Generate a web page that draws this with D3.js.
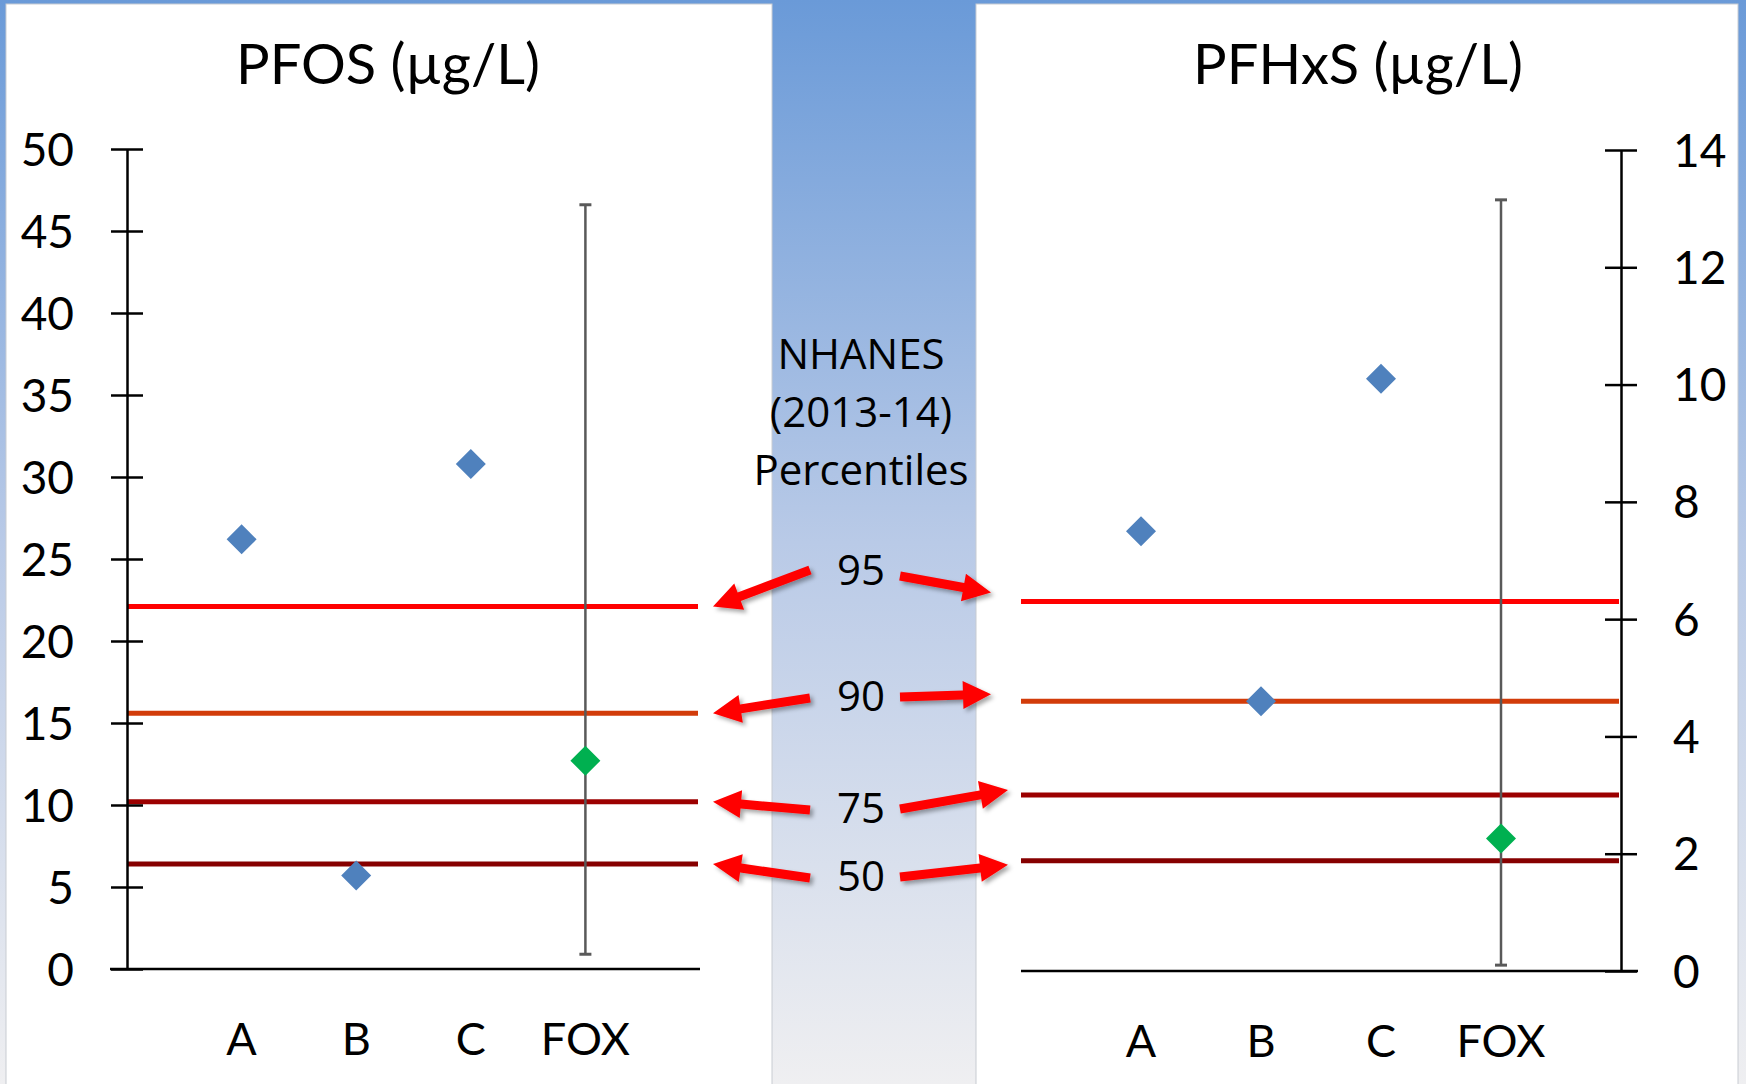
<!DOCTYPE html>
<html>
<head>
<meta charset="utf-8">
<script src="https://cdn.jsdelivr.net/npm/d3@7"></script>
<style>
  html, body { margin: 0; padding: 0; background: #fff; }
  svg { display: block; }
</style>
</head>
<body>
<div id="vis"></div>
<script>
// ── Data ───────────────────────────────────────────────────────────────

const categories = ["A", "B", "C", "FOX"];

// PFOS (µg/L)
const pfosValues = [26.2, 5.7, 30.8, 12.7];
const pfosFoxRange = [0.9, 46.6];
const pfosTicks = [0, 5, 10, 15, 20, 25, 30, 35, 40, 45, 50];

// PFHxS (µg/L)
const pfhxsValues = [7.5, 4.6, 10.1, 2.26];
const pfhxsFoxRange = [0.1, 13.15];
const pfhxsTicks = [0, 2, 4, 6, 8, 10, 12, 14];

// NHANES (2013-14) percentiles
const percentiles = ["95", "90", "75", "50"];
const pfosPercentiles = [22.1, 15.6, 10.2, 6.4];
const pfhxsPercentiles = [6.3, 4.6, 3.0, 1.88];

// ── Setup ──────────────────────────────────────────────────────────────

const W = 1746, H = 1084;
const FONT = "Lato, 'Open Sans', sans-serif";
const LINE_COLORS = { "95": "#ff0000", "90": "#d23c0a", "75": "#9c0000", "50": "#860000" };

const svg = d3.select("#vis").append("svg").attr("width", W).attr("height", H);
const defs = svg.append("defs");

const grad = defs.append("linearGradient").attr("id", "bg").attr("x1", 0).attr("y1", 0).attr("x2", 0).attr("y2", 1);
grad.append("stop").attr("offset", "0%").attr("stop-color", "#6a9ad8");
grad.append("stop").attr("offset", "50%").attr("stop-color", "#b9cae7");
grad.append("stop").attr("offset", "100%").attr("stop-color", "#efeff1");

const shadow = defs.append("filter").attr("id", "shadow").attr("x", "-20%").attr("y", "-50%").attr("width", "140%").attr("height", "200%");
shadow.append("feDropShadow").attr("dx", 3).attr("dy", 3).attr("stdDeviation", 2)
  .attr("flood-color", "#000").attr("flood-opacity", 0.35);

svg.append("rect").attr("width", W).attr("height", H).attr("fill", "url(#bg)");

// white panels
svg.append("rect").attr("x", 6).attr("y", 4).attr("width", 766).attr("height", H).attr("fill", "#fff")
  .attr("stroke", "#c8ccd2").attr("stroke-width", 1);
svg.append("rect").attr("x", 976).attr("y", 4).attr("width", 762).attr("height", H).attr("fill", "#fff")
  .attr("stroke", "#c8ccd2").attr("stroke-width", 1);

// ── Panels ─────────────────────────────────────────────────────────────

function panel(opt) {
  const g = svg.append("g");
  const x = d3.scalePoint().domain(categories).range(opt.xRange).padding(1);
  const y = d3.scaleLinear().domain(opt.yDomain).range(opt.yRange);

  // title
  g.append("text").attr("x", opt.titleX).attr("y", 84)
    .attr("text-anchor", "middle").attr("font-family", FONT).attr("font-size", 56)
    .attr("fill", "#000").text(opt.title);

  // percentile lines
  g.selectAll("line.pct").data(percentiles).join("line").attr("class", "pct")
    .attr("x1", opt.xRange[0]).attr("x2", opt.xRange[1] - 2)
    .attr("y1", (d, i) => y(opt.pct[i])).attr("y2", (d, i) => y(opt.pct[i]))
    .attr("stroke", d => LINE_COLORS[d]).attr("stroke-width", 5);

  // y axis
  const axis = (opt.side === "left" ? d3.axisLeft(y) : d3.axisRight(y))
    .tickValues(opt.ticks).tickSize(0).tickPadding(0);
  const ax = g.append("g").attr("transform", `translate(${opt.axisX},0)`).call(axis);
  ax.select(".domain").attr("stroke", "#000").attr("stroke-width", 2.5);
  ax.selectAll(".tick line").attr("x1", -16).attr("x2", 16).attr("stroke", "#000").attr("stroke-width", 2.5);
  ax.selectAll(".tick text").attr("font-family", FONT).attr("font-size", 46).attr("fill", "#000")
    .attr("x", opt.side === "left" ? -53 : 52).attr("dy", "0.35em");

  // x axis
  g.append("line").attr("x1", opt.xAxis[0]).attr("x2", opt.xAxis[1])
    .attr("y1", y(0)).attr("y2", y(0)).attr("stroke", "#000").attr("stroke-width", 2.5);
  g.selectAll("text.cat").data(categories).join("text").attr("class", "cat")
    .attr("x", d => x(d)).attr("y", y(0) + 70)
    .attr("text-anchor", "middle").attr("dy", "0.35em")
    .attr("font-family", FONT).attr("font-size", 45).attr("fill", "#000").text(d => d);

  // FOX range bar
  const fx = x("FOX");
  g.append("line").attr("x1", fx).attr("x2", fx)
    .attr("y1", y(opt.foxRange[0])).attr("y2", y(opt.foxRange[1]))
    .attr("stroke", "#595959").attr("stroke-width", 2.5);
  g.selectAll("line.cap").data(opt.foxRange).join("line").attr("class", "cap")
    .attr("x1", fx - 6).attr("x2", fx + 6).attr("y1", d => y(d)).attr("y2", d => y(d))
    .attr("stroke", "#595959").attr("stroke-width", 3);

  // diamonds
  const sym = d3.symbol().type(d3.symbolSquare).size(450);
  g.selectAll("path.pt").data(categories).join("path").attr("class", "pt")
    .attr("d", sym)
    .attr("transform", (d, i) => `translate(${x(d)},${y(opt.values[i])}) rotate(45)`)
    .attr("fill", d => d === "FOX" ? "#00b050" : "#4f81bd");

  return { x, y };
}

const left = panel({
  title: "PFOS (µg/L)", titleX: 388, side: "left", axisX: 127,
  xRange: [127, 700], xAxis: [110, 700], yDomain: [0, 50], yRange: [969, 149],
  ticks: pfosTicks, values: pfosValues, foxRange: pfosFoxRange, pct: pfosPercentiles
});

const right = panel({
  title: "PFHxS (µg/L)", titleX: 1358, side: "right", axisX: 1621,
  xRange: [1021, 1621], xAxis: [1021, 1638], yDomain: [0, 14], yRange: [971, 150],
  ticks: pfhxsTicks, values: pfhxsValues, foxRange: pfhxsFoxRange, pct: pfhxsPercentiles
});

// ── Center: NHANES labels and arrows ───────────────────────────────────

const CX = 861;
const center = svg.append("g").attr("font-family", "'Open Sans', sans-serif").attr("fill", "#000");
center.selectAll("text.head").data(["NHANES", "(2013-14)", "Percentiles"]).join("text").attr("class", "head")
  .attr("x", CX).attr("y", (d, i) => 354 + i * 58).attr("dy", "0.35em")
  .attr("text-anchor", "middle").attr("font-size", 42).text(d => d);

// label y positions (layout)
const labelY = { "95": 570, "90": 696, "75": 808, "50": 876 };
const rightTipDy = { "95": -9, "90": -7, "75": -5, "50": 4 };
const rightTipX = { "95": 991, "90": 991, "75": 1008, "50": 1008 };

center.selectAll("text.pct").data(percentiles).join("text").attr("class", "pct")
  .attr("x", CX).attr("y", d => labelY[d]).attr("dy", "0.35em")
  .attr("text-anchor", "middle").attr("font-size", 42).text(d => d);

function arrowPath(x0, y0, x1, y1) {
  const dx = x1 - x0, dy = y1 - y0, len = Math.hypot(dx, dy);
  const ux = dx / len, uy = dy / len, nx = -uy, ny = ux;
  const hl = 28, hw = 14, sw = 4.5;
  const bx = x1 - ux * hl, by = y1 - uy * hl;
  const pts = [
    [x0 + nx * sw, y0 + ny * sw], [bx + nx * sw, by + ny * sw], [bx + nx * hw, by + ny * hw],
    [x1, y1],
    [bx - nx * hw, by - ny * hw], [bx - nx * sw, by - ny * sw], [x0 - nx * sw, y0 - ny * sw]
  ];
  return "M" + pts.map(p => p.join(",")).join("L") + "Z";
}

const arrows = [];
percentiles.forEach((p, i) => {
  arrows.push({ x0: 810, y0: labelY[p] + (p === "95" ? 0 : 2), x1: 713, y1: left.y(pfosPercentiles[i]) });
  arrows.push({ x0: 900, y0: labelY[p] + (p === "95" ? 6 : 1), x1: rightTipX[p], y1: right.y(pfhxsPercentiles[i]) + rightTipDy[p] });
});

svg.append("g").attr("filter", "url(#shadow)")
  .selectAll("path").data(arrows).join("path")
  .attr("d", a => arrowPath(a.x0, a.y0, a.x1, a.y1))
  .attr("fill", "#ff0000");
</script>
</body>
</html>
